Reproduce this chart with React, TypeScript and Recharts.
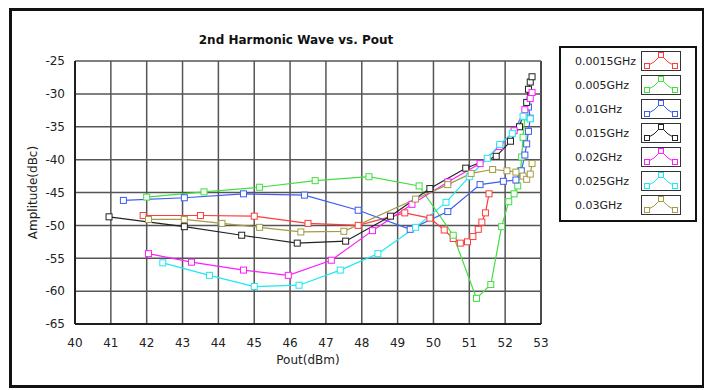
import React from "react";
import {
  LineChart,
  Line,
  XAxis,
  YAxis,
  ReferenceLine,
} from "recharts";

type Pt = { x: number; y: number };

const xTicks = [40, 41, 42, 43, 44, 45, 46, 47, 48, 49, 50, 51, 52, 53];
const yTicks = [-65, -60, -55, -50, -45, -40, -35, -30, -25];

const f0015: Pt[] = [
  { x: 41.9, y: -48.5 }, { x: 43.5, y: -48.5 }, { x: 45, y: -48.6 }, { x: 46.5, y: -49.7 },
  { x: 47.9, y: -50 }, { x: 49.2, y: -48.1 }, { x: 49.9, y: -48.9 }, { x: 50.3, y: -50.7 },
  { x: 50.55, y: -52 }, { x: 50.75, y: -52.7 }, { x: 50.95, y: -52.5 }, { x: 51.1, y: -51.7 },
  { x: 51.25, y: -50.6 }, { x: 51.35, y: -49.5 }, { x: 51.45, y: -48.1 }, { x: 51.55, y: -45.2 },
];
const f005: Pt[] = [
  { x: 42, y: -45.7 }, { x: 43.6, y: -44.9 }, { x: 45.15, y: -44.2 }, { x: 46.7, y: -43.2 },
  { x: 48.2, y: -42.6 }, { x: 49.6, y: -44 }, { x: 50.55, y: -51.5 }, { x: 51.2, y: -61.1 },
  { x: 51.6, y: -59 }, { x: 51.9, y: -50.2 }, { x: 52.1, y: -46.4 }, { x: 52.25, y: -45.2 },
  { x: 52.35, y: -44 }, { x: 52.43, y: -41.7 }, { x: 52.46, y: -39.6 }, { x: 52.5, y: -36.6 },
  { x: 52.55, y: -33.5 },
];
const f01: Pt[] = [
  { x: 41.35, y: -46.2 }, { x: 43.05, y: -45.8 }, { x: 44.7, y: -45.2 }, { x: 46.4, y: -45.4 },
  { x: 47.9, y: -47.7 }, { x: 49.35, y: -50.6 }, { x: 50.4, y: -47.9 }, { x: 51.3, y: -43.8 },
  { x: 51.95, y: -43.3 }, { x: 52.3, y: -43.1 }, { x: 52.45, y: -41.7 }, { x: 52.55, y: -39.3 },
  { x: 52.6, y: -37.6 }, { x: 52.65, y: -35.7 }, { x: 52.7, y: -33.7 }, { x: 52.65, y: -32 },
];
const f015: Pt[] = [
  { x: 40.95, y: -48.7 }, { x: 43.05, y: -50.2 }, { x: 44.65, y: -51.5 }, { x: 46.2, y: -52.7 },
  { x: 47.55, y: -52.4 }, { x: 48.8, y: -48.6 }, { x: 49.9, y: -44.4 }, { x: 50.9, y: -41.3 },
  { x: 51.75, y: -39.5 }, { x: 52.15, y: -37.2 }, { x: 52.4, y: -35 }, { x: 52.6, y: -31.3 },
  { x: 52.65, y: -29.3 }, { x: 52.7, y: -28.2 }, { x: 52.75, y: -27.4 },
];
const f02: Pt[] = [
  { x: 42.05, y: -54.3 }, { x: 43.25, y: -55.6 }, { x: 44.7, y: -56.8 }, { x: 45.95, y: -57.6 },
  { x: 47.15, y: -55.3 }, { x: 48.3, y: -50.8 }, { x: 49.4, y: -46.8 }, { x: 50.4, y: -43.4 },
  { x: 51.3, y: -40.6 }, { x: 51.85, y: -38 }, { x: 52.25, y: -35.6 }, { x: 52.55, y: -32.4 },
  { x: 52.7, y: -30.7 }, { x: 52.75, y: -29.8 },
];
const f025: Pt[] = [
  { x: 42.45, y: -55.7 }, { x: 43.75, y: -57.6 }, { x: 45, y: -59.3 }, { x: 46.25, y: -59.1 },
  { x: 47.4, y: -56.8 }, { x: 48.45, y: -54.3 }, { x: 49.5, y: -50.3 }, { x: 50.35, y: -46.5 },
  { x: 51, y: -42.6 }, { x: 51.5, y: -39.8 }, { x: 51.85, y: -37.7 }, { x: 52.2, y: -36 },
  { x: 52.5, y: -33.4 }, { x: 52.7, y: -33.8 },
];
const f03: Pt[] = [
  { x: 42.05, y: -49.1 }, { x: 43.05, y: -49.1 }, { x: 44.1, y: -49.7 }, { x: 45.15, y: -50.3 },
  { x: 46.3, y: -51 }, { x: 47.5, y: -50.9 }, { x: 49.5, y: -46 }, { x: 50.4, y: -43.8 },
  { x: 51.05, y: -42.1 }, { x: 51.65, y: -41.5 }, { x: 52.05, y: -41.7 }, { x: 52.3, y: -41.9 },
  { x: 52.5, y: -42.5 }, { x: 52.6, y: -43 }, { x: 52.7, y: -42.2 }, { x: 52.75, y: -40.6 },
];

const series = [
  { name: "0.0015GHz", data: f0015, color: "#ff3b3b" },
  { name: "0.005GHz", data: f005, color: "#3fe03f" },
  { name: "0.01GHz", data: f01, color: "#3d5cf2" },
  { name: "0.015GHz", data: f015, color: "#222222" },
  { name: "0.02GHz", data: f02, color: "#ff1cff" },
  { name: "0.025GHz", data: f025, color: "#1ee8f2" },
  { name: "0.03GHz", data: f03, color: "#a39b45" },
];

const font = "Tahoma, 'DejaVu Sans', sans-serif";

function squareDot(color: string) {
  return (p: any) => (
    <rect
      key={`${color}-${p.index}`}
      x={p.cx - 3}
      y={p.cy - 3}
      width={6}
      height={6}
      fill="#ffffff"
      stroke={color}
      strokeWidth={1}
    />
  );
}

function LegendIcon({ color }: { color: string }) {
  return (
    <svg width={40} height={20} style={{ display: "block" }}>
      <rect x={0.5} y={0.5} width={39} height={19} fill="#fff" stroke="#333" />
      <polyline points="6,15 13,11 20,4 27,11 34,15" fill="none" stroke={color} />
      {[
        [6, 15],
        [20, 4],
        [34, 15],
      ].map(([x, y], i) => (
        <rect key={i} x={x - 2.5} y={y - 2.5} width={5} height={5} fill="#fff" stroke={color} />
      ))}
    </svg>
  );
}

function LegendBox() {
  return (
    <div
      style={{
        position: "absolute",
        left: 551,
        top: 38,
        border: "2px solid #111",
        background: "#fff",
        padding: "1px 0 3px 0",
        width: 138,
        boxSizing: "border-box",
      }}
    >
      {series.map((s) => (
        <div key={s.name} style={{ display: "flex", alignItems: "center", height: 24 }}>
          <span style={{ width: 66, paddingLeft: 14, fontSize: 11, fontFamily: font, color: "#222" }}>
            {s.name}
          </span>
          <LegendIcon color={s.color} />
        </div>
      ))}
    </div>
  );
}

export default function App() {
  return (
    <div
      style={{
        position: "relative",
        width: 696,
        height: 380,
        border: "3px solid #111",
        boxSizing: "border-box",
        marginLeft: 1,
        background: "#fff",
      }}
    >
      <div style={{ position: "absolute", left: -4, top: -3 }}>
        <LineChart
          width={696}
          height={380}
          margin={{ top: 53, right: 163, left: 7, bottom: 18 }}
          style={{ fontFamily: font }}
        >
          <text x={288} y={36} textAnchor="middle" fontSize={12} fontWeight="bold" fill="#111">
            2nd Harmonic Wave vs. Pout
          </text>
          <XAxis
            type="number"
            dataKey="x"
            domain={[40, 53]}
            ticks={xTicks}
            allowDuplicatedCategory={false}
            tickLine={false}
            tickMargin={8}
            axisLine={{ stroke: "#111", strokeWidth: 1.5 }}
            tick={{ fontSize: 12, fill: "#222" }}
            height={46}
            label={{ value: "Pout(dBm)", position: "insideBottom", offset: 6, fontSize: 12, fill: "#222" }}
          />
          <YAxis
            type="number"
            dataKey="y"
            domain={[-65, -25]}
            ticks={yTicks}
            tickLine={false}
            tickMargin={4}
            width={60}
            axisLine={{ stroke: "#111", strokeWidth: 1.5 }}
            tick={{ fontSize: 12, fill: "#222" }}
            label={{
              value: "Amplitude(dBc)",
              angle: -90,
              position: "insideLeft",
              offset: 18,
              style: { textAnchor: "middle", fontSize: 12, fill: "#222" },
            }}
          />
          {xTicks.map((v) => (
            <ReferenceLine key={`vx${v}`} x={v} stroke={v === 40 || v === 53 ? "#111" : "#555"} strokeWidth={1.5} />
          ))}
          {yTicks.map((v) => (
            <ReferenceLine key={`hy${v}`} y={v} stroke={v === -65 ? "#111" : "#555"} strokeWidth={1.5} />
          ))}
          {series.map((s) => (
            <Line
              key={s.name}
              name={s.name}
              data={s.data}
              dataKey="y"
              type="linear"
              stroke={s.color}
              strokeWidth={1.2}
              dot={squareDot(s.color)}
              activeDot={false}
              isAnimationActive={false}
            />
          ))}
        </LineChart>
      </div>
      <div style={{ position: "absolute", left: -4, top: -3 }}>
        <LegendBox />
      </div>
    </div>
  );
}
